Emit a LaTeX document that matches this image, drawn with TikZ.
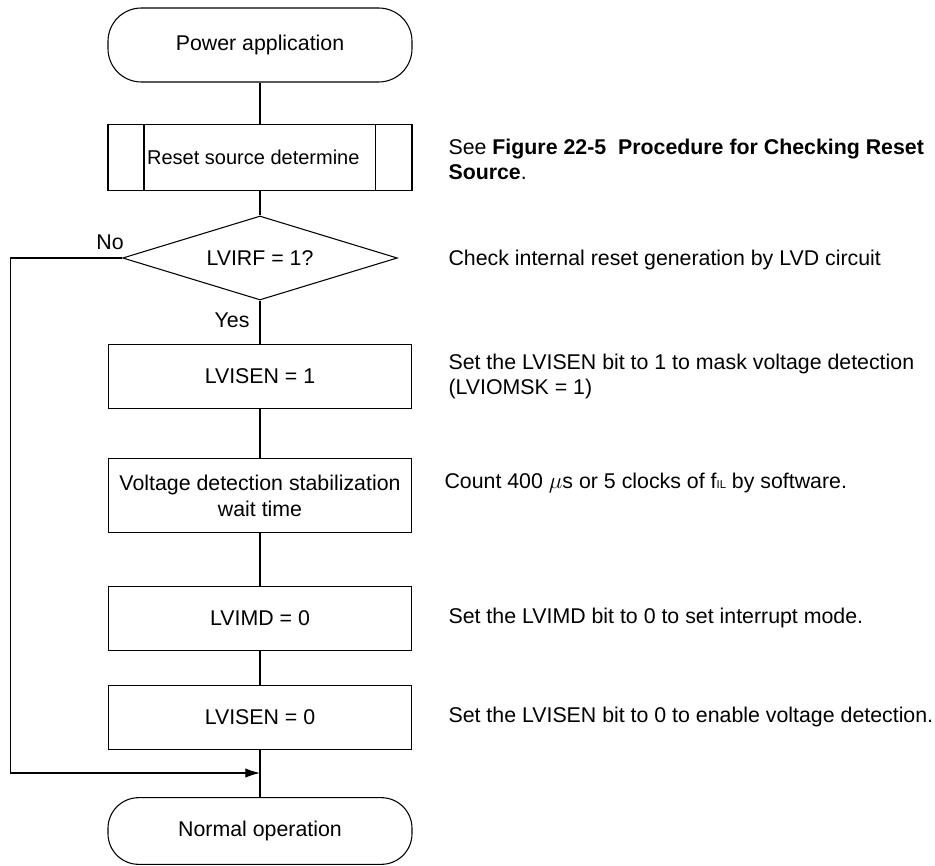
\documentclass[tikz,border=0pt]{standalone}
\usepackage{fontspec}
\setmainfont{Liberation Sans}
\usetikzlibrary{shapes.geometric,arrows.meta}

\tikzset{
  terminal/.style={draw, rectangle, rounded corners=25pt, minimum width=228pt, minimum height=55.5pt, inner sep=0pt},
  process/.style={draw, rectangle, minimum width=227pt, minimum height=47.5pt, inner sep=0pt},
  predef/.style={process, minimum width=228pt, minimum height=49pt,
    path picture={
      \draw ([xshift=27pt]path picture bounding box.north west) -- ([xshift=27pt]path picture bounding box.south west);
      \draw ([xshift=-27.5pt]path picture bounding box.north east) -- ([xshift=-27.5pt]path picture bounding box.south east);
    }},
  decision/.style={draw, diamond, aspect=3.27, minimum width=206pt, minimum height=63pt, inner sep=0pt},
  note/.style={anchor=west, align=left, inner sep=0pt},
  flow/.style={-{Latex[length=11pt,width=7pt]}}
}

\begin{document}
\begin{tikzpicture}[x=0.75pt, y=-0.75pt, line width=0.8pt,
  font=\fontsize{16pt}{18.75pt}\selectfont]
  \useasboundingbox (0,0) rectangle (935,866);

  % flow chart
  \node[terminal] (start) at (260,45) {Power application};
  \node[predef, font=\fontsize{15pt}{18pt}\selectfont] (reset) at (260,157.5) {Reset source determine\kern10pt};
  \node[decision] (check) at (260,258) {LVIRF = 1?};
  \node[process] (mask) at (260,376.5) {LVISEN = 1};
  \node[process, minimum height=56pt, align=center, font=\fontsize{16pt}{19.5pt}\selectfont] (wait) at (260,495.5) {Voltage detection stabilization\\wait time};
  \node[process] (mode) at (260,618.5) {LVIMD = 0};
  \node[process] (enable) at (260,717.5) {LVISEN = 0};
  \node[terminal, minimum height=50pt, rounded corners=23pt] (normal) at (260,831) {Normal operation};
  \coordinate (join) at (260,773);

  \draw (start) -- (reset);
  \draw (reset) -- (check);
  \draw (check) -- (mask);
  \draw (mask) -- (wait);
  \draw (wait) -- (mode);
  \draw (mode) -- (enable);
  \draw (enable) -- (normal);
  \draw[flow] (check.west) -- ++(-112,0) |- (join);

  \node (nolbl) at (110,242) {No};
  \node (yeslbl) at (232,320) {Yes};

  % notes
  \node[note] (seenote) at (448,159.5) {See \textbf{Figure 22-5\ \ Procedure for Checking Reset}\\\textbf{Source}.};
  \node[note] (checknote) at (448,260) {Check internal reset generation by LVD circuit};
  \node[note] (masknote) at (448,376.5) {Set the LVISEN bit to 1 to mask voltage detection\\(LVIOMSK = 1)};
  \node[note] (waitnote) at (444,483) {Count 400 $\mu$s or 5 clocks of f{\fontsize{8.5pt}{8.5pt}\selectfont IL} by software.};
  \node[note] (modenote) at (448,618) {Set the LVIMD bit to 0 to set interrupt mode.};
  \node[note] (enablenote) at (448,717) {Set the LVISEN bit to 0 to enable voltage detection.};
\end{tikzpicture}
\end{document}
